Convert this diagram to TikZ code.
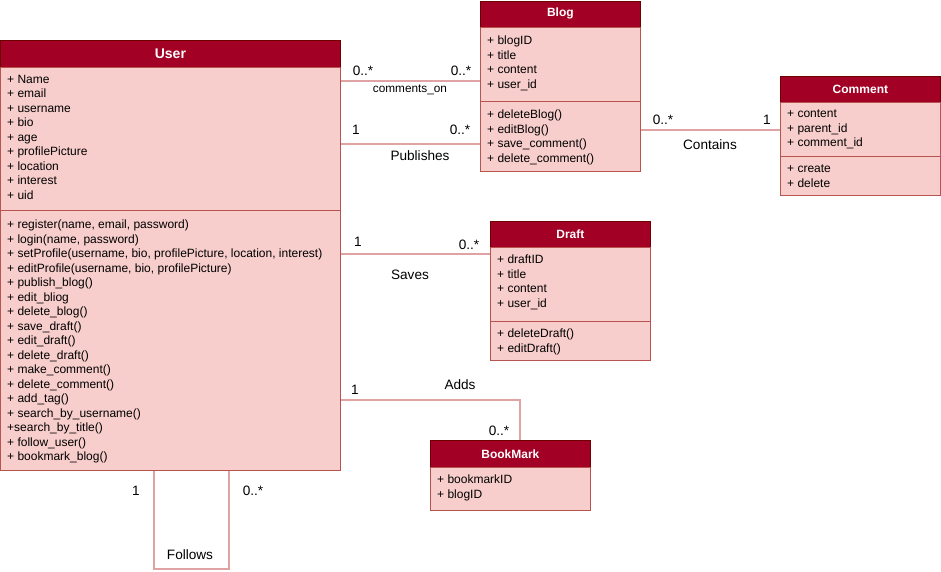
\documentclass[tikz,border=0pt]{standalone}
\usepackage{fontspec}
\setmainfont{Liberation Sans}
\definecolor{hdrfill}{HTML}{A20025}
\definecolor{hdrline}{HTML}{6F0000}
\definecolor{bodyfill}{HTML}{F8CECC}
\definecolor{bodyline}{HTML}{B85450}
\definecolor{connline}{HTML}{DFA3A3}
\begin{document}
\begin{tikzpicture}[x=1pt,y=-1pt,
  hdr/.style={draw=hdrline,fill=hdrfill,text=white,font=\fontsize{12}{13}\selectfont\bfseries,anchor=north west,inner sep=0pt,line width=0.8pt},
  bodybox/.style={draw=bodyline,fill=bodyfill,anchor=north west,inner sep=0pt,line width=0.8pt},
  members/.style={anchor=north west,inner sep=0pt,align=left,font=\fontsize{12}{14.5}\selectfont},
  conn/.style={draw=connline,line width=1.2pt},
  lbl/.style={inner sep=0pt,font=\fontsize{13.6}{15}\selectfont},
  slbl/.style={inner sep=0pt,font=\fontsize{11.8}{13}\selectfont}]
\useasboundingbox (0,0) rectangle (941,571);
% ---------- User ----------
\node[hdr,minimum width=340pt,minimum height=27pt,font=\fontsize{14}{15}\selectfont\bfseries] (userh) at (0,40) {User};
\node[bodybox,minimum width=340pt,minimum height=143pt] (usera) at (0,67) {};
\node[bodybox,minimum width=340pt,minimum height=260pt] (userm) at (0,210) {};
\node[members] (userat) at (7,75) {+ Name\\+ email\\+ username\\+ bio\\+ age\\+ profilePicture\\+ location\\+ interest\\+ uid};
\node[members] (usermt) at (7,220) {+ register(name, email, password)\\+ login(name, password)\\+ setProfile(username, bio, profilePicture, location, interest)\\+ editProfile(username, bio, profilePicture)\\+ publish\_blog()\\+ edit\_bliog\\+ delete\_blog()\\+ save\_draft()\\+ edit\_draft()\\+ delete\_draft()\\+ make\_comment()\\+ delete\_comment()\\+ add\_tag()\\+ search\_by\_username()\\+search\_by\_title()\\+ follow\_user()\\+ bookmark\_blog()};
% ---------- Blog ----------
\node[hdr,minimum width=160pt,minimum height=26pt] (blogh) at (480,0.5) {Blog};
\node[bodybox,minimum width=160pt,minimum height=74pt] (bloga) at (480,26.5) {};
\node[bodybox,minimum width=160pt,minimum height=70pt] (blogm) at (480,100.5) {};
\node[members] (blogat) at (487,36) {+ blogID\\+ title\\+ content\\+ user\_id};
\node[members] (blogmt) at (487,110) {+ deleteBlog()\\+ editBlog()\\+ save\_comment()\\+ delete\_comment()};
% ---------- Comment ----------
\node[hdr,minimum width=160pt,minimum height=26pt] (commh) at (780,76) {Comment};
\node[bodybox,minimum width=160pt,minimum height=54pt] (comma) at (780,102) {};
\node[bodybox,minimum width=160pt,minimum height=39pt] (commm) at (780,156) {};
\node[members] (commat) at (787,110) {+ content\\+ parent\_id\\+ comment\_id};
\node[members] (commmt) at (787,165) {+ create\\+ delete};
% ---------- Draft ----------
\node[hdr,minimum width=160pt,minimum height=26pt] (drafth) at (490,221) {Draft};
\node[bodybox,minimum width=160pt,minimum height=74pt] (drafta) at (490,247) {};
\node[bodybox,minimum width=160pt,minimum height=39pt] (draftm) at (490,321) {};
\node[members] (draftat) at (497,255) {+ draftID\\+ title\\+ content\\+ user\_id};
\node[members] (draftmt) at (497,329) {+ deleteDraft()\\+ editDraft()};
% ---------- BookMark ----------
\node[hdr,minimum width=160pt,minimum height=27pt] (bmh) at (430,440) {BookMark};
\node[bodybox,minimum width=160pt,minimum height=43pt] (bma) at (430,467) {};
\node[members] (bmat) at (437,475) {+ bookmarkID\\+ blogID};
% ---------- connectors ----------
\draw[conn] (usera.east |- 0,81) -- (bloga.west |- 0,81);
\node[lbl] (m1a) at (363,71) {0..*};
\node[lbl] (m1b) at (461,71) {0..*};
\node[slbl] (r1) at (410,90) {comments\_on};
\draw[conn] (usera.east |- 0,144) -- (blogm.west |- 0,144);
\node[lbl] (m2a) at (356,130) {1};
\node[lbl] (m2b) at (460,130) {0..*};
\node[lbl] (r2) at (420,156) {Publishes};
\draw[conn] (blogm.east |- 0,130) -- (comma.west |- 0,130);
\node[lbl] (m3a) at (663,120) {0..*};
\node[lbl] (m3b) at (767,120) {1};
\node[lbl] (r3) at (710,145) {Contains};
\draw[conn] (userm.east |- 0,254) -- (drafth.west |- 0,254);
\node[lbl] (m4a) at (358,242) {1};
\node[lbl] (m4b) at (469,245) {0..*};
\node[lbl] (r4) at (410,275) {Saves};
\draw[conn] (userm.east |- 0,400) -| (bmh.north -| 520,0);
\node[lbl] (m5a) at (355,390) {1};
\node[lbl] (m5b) at (499,431) {0..*};
\node[lbl] (r5) at (460,385) {Adds};
\draw[conn] (userm.south -| 154,0) -- (154,569) -- (229,569) -- (userm.south -| 229,0);
\node[lbl] (m6a) at (136,491) {1};
\node[lbl] (m6b) at (253,491) {0..*};
\node[lbl] (r6) at (190,555) {Follows};
\end{tikzpicture}
\end{document}
